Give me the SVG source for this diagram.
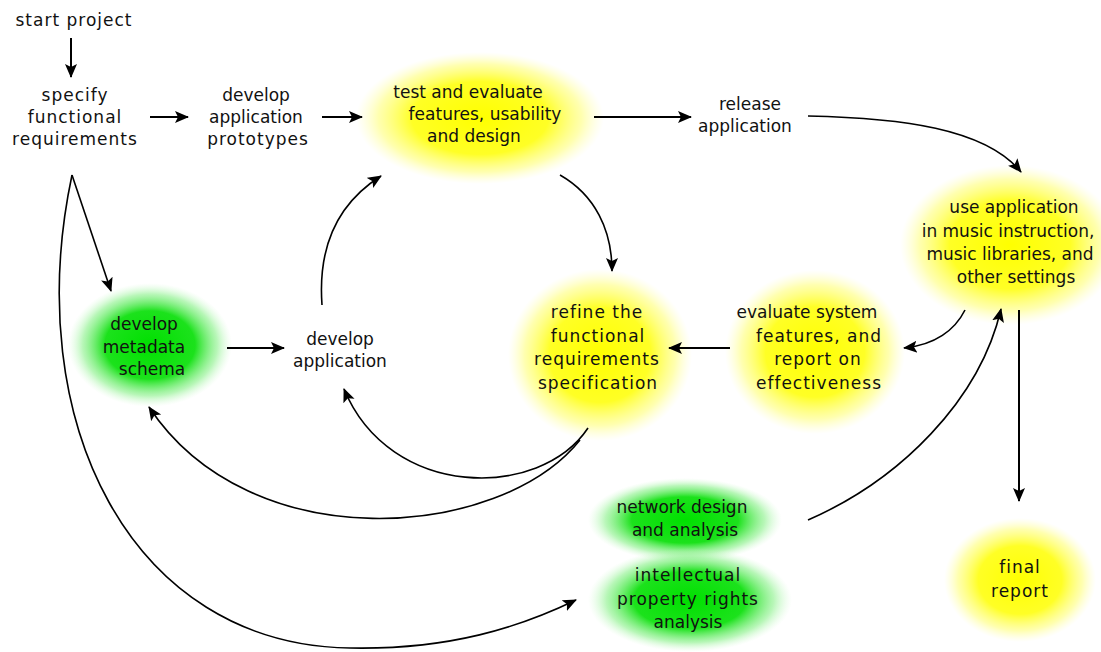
<svg xmlns="http://www.w3.org/2000/svg" width="1101" height="652" viewBox="0 0 1101 652">
<defs>
<radialGradient id="gy">
<stop offset="0" stop-color="#ffff00"/>
<stop offset="0.55" stop-color="#ffff1a" stop-opacity="0.95"/>
<stop offset="0.82" stop-color="#ffff60" stop-opacity="0.5"/>
<stop offset="1" stop-color="#ffffa0" stop-opacity="0"/>
</radialGradient>
<radialGradient id="gg">
<stop offset="0" stop-color="#00e000"/>
<stop offset="0.55" stop-color="#10e010" stop-opacity="0.95"/>
<stop offset="0.82" stop-color="#70ee70" stop-opacity="0.5"/>
<stop offset="1" stop-color="#c0f8c0" stop-opacity="0"/>
</radialGradient>
<marker id="ah" markerUnits="userSpaceOnUse" markerWidth="14" markerHeight="14" refX="13" refY="7" orient="auto">
<path d="M0,1 L14,7 L0,13 L3,7 z" fill="#000"/>
</marker>
</defs>
<style>
text{font-family:"DejaVu Sans","Liberation Sans",sans-serif;font-size:17px;fill:#111;text-anchor:middle}
.w{letter-spacing:1px}
.c{fill:none;stroke:#000;stroke-width:1.6;marker-end:url(#ah)}
.s{stroke-width:2}
</style>
<rect width="1101" height="652" fill="#fff"/>

<g id="start"><text class="w" x="74" y="26">start project</text></g>
<g id="specify"><text class="w" x="75" y="101">specify</text><text class="w" x="75" y="123">functional</text><text class="w" x="75" y="145">requirements</text></g>
<g id="prototypes"><text x="256" y="101">develop</text><text x="256" y="123">application</text><text class="w" x="258" y="145">prototypes</text></g>
<g id="test"><ellipse cx="480" cy="118" rx="124" ry="66" fill="url(#gy)"/><text x="468" y="98">test and evaluate</text><text x="485" y="120">features, usability</text><text x="474" y="142">and design</text></g>
<g id="release"><text x="750" y="110">release</text><text x="745" y="132">application</text></g>
<g id="use"><ellipse cx="1010" cy="245" rx="110" ry="80" fill="url(#gy)"/><text x="1014" y="213">use application</text><text x="1008" y="237">in music instruction,</text><text x="1010" y="260">music libraries, and</text><text x="1016" y="283">other settings</text></g>
<g id="metadata"><ellipse cx="150" cy="345" rx="82" ry="62" fill="url(#gg)"/><text x="144" y="330">develop</text><text x="144" y="353">metadata</text><text x="152" y="375">schema</text></g>
<g id="devapp"><text x="340" y="345">develop</text><text x="340" y="367">application</text></g>
<g id="refine"><ellipse cx="600" cy="355" rx="92" ry="86" fill="url(#gy)"/><text class="w" x="597" y="318">refine the</text><text class="w" x="598" y="342">functional</text><text class="w" x="597" y="365">requirements</text><text class="w" x="598" y="389">specification</text></g>
<g id="evaluate"><ellipse cx="815" cy="352" rx="90" ry="82" fill="url(#gy)"/><text x="807" y="318">evaluate system</text><text class="w" x="819" y="342">features, and</text><text class="w" x="818" y="365">report on</text><text class="w" x="819" y="389">effectiveness</text></g>
<g id="network"><ellipse cx="685" cy="520" rx="97" ry="42" fill="url(#gg)"/><text x="682" y="513">network design</text><text x="685" y="536">and analysis</text></g>
<g id="ipr"><ellipse cx="690" cy="600" rx="102" ry="52" fill="url(#gg)"/><text class="w" x="688" y="581">intellectual</text><text class="w" x="688" y="605">property rights</text><text x="688" y="628">analysis</text></g>
<g id="final"><ellipse cx="1020" cy="580" rx="76" ry="62" fill="url(#gy)"/><text class="w" x="1020" y="573">final</text><text class="w" x="1020" y="597">report</text></g>

<g id="connectors">
<path class="c s" d="M71,38 L71,77"/>
<path class="c s" d="M150,117 L188,117"/>
<path class="c s" d="M322,117 L362,117"/>
<path class="c s" d="M594,117 L691,117"/>
<path class="c" d="M808,116 C900,118 985,128 1021,172"/>
<path class="c" d="M72,175 L111,291"/>
<path class="c" d="M72,175 C20,420 130,645 350,648 C450,650 520,627 576,600"/>
<path class="c s" d="M227,348 L284,348"/>
<path class="c" d="M322,305 C318,250 335,205 381,176"/>
<path class="c" d="M560,175 C595,195 612,230 612,271"/>
<path class="c s" d="M730,348 L669,348"/>
<path class="c" d="M965,310 C955,330 935,345 904,348"/>
<path class="c" d="M808,520 C900,480 980,400 1001,309"/>
<path class="c s" d="M1019,310 L1019,501"/>
<path class="c" d="M588,428 C540,500 390,500 344,389"/>
<path class="c" d="M580,440 C500,540 250,560 149,407"/>
</g>
</svg>
